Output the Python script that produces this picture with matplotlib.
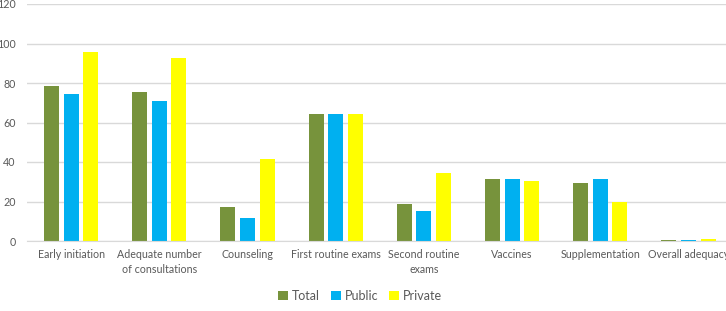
import numpy as np
import matplotlib
matplotlib.use("Agg")
import matplotlib.pyplot as plt

# Data
categories = ["Early initiation", "Adequate number\nof consultations", "Counseling",
              "First routine exams", "Second routine\nexams", "Vaccines",
              "Supplementation", "Overall adequacy"]
total = [78.5, 75.3, 17.4, 64.4, 18.7, 31.5, 29.2, 0.5]
public = [74.5, 71.0, 11.7, 64.4, 15.2, 31.6, 31.6, 0.4]
private = [95.6, 92.5, 41.6, 64.1, 34.5, 30.5, 19.9, 1.0]

plt.rcParams['font.family'] = ['Lato', 'DejaVu Sans']

fig = plt.figure(figsize=(7.26, 3.11), dpi=100)
ax = fig.add_axes([27 / 726, 70 / 311, 8 * 88.2 / 726, 237 / 311])

x = np.arange(len(categories))
w = 0.17
step = 0.222
ax.bar(x - step, total, w, color="#77933C", label="Total")
ax.bar(x, public, w, color="#00B0F0", label="Public")
ax.bar(x + step, private, w, color="#FFFF00", label="Private")

ax.set_xlim(-0.5, len(categories) - 0.5)
ax.set_ylim(0, 120)
ax.set_yticks(range(0, 121, 20))
ax.yaxis.grid(True, color="#D9D9D9", linewidth=1)
ax.set_axisbelow(True)
for s in ["top", "right", "left"]:
    ax.spines[s].set_visible(False)
ax.spines["bottom"].set_color("#D9D9D9")
ax.tick_params(length=0, colors="#595959", labelsize=7.7)
ax.tick_params(axis="y", pad=8)
ax.tick_params(axis="x", pad=6)
ax.set_xticks(x)
ax.set_xticklabels(categories, linespacing=1.4)

ax.legend(loc="center", bbox_to_anchor=(360 / 726, 1 - 296 / 311), bbox_transform=fig.transFigure,
          ncol=3, frameon=False, fontsize=9, handlelength=0.8, handleheight=0.8,
          handletextpad=0.3, columnspacing=0.9, labelcolor="#595959")

fig.savefig("out.png", dpi=100)
